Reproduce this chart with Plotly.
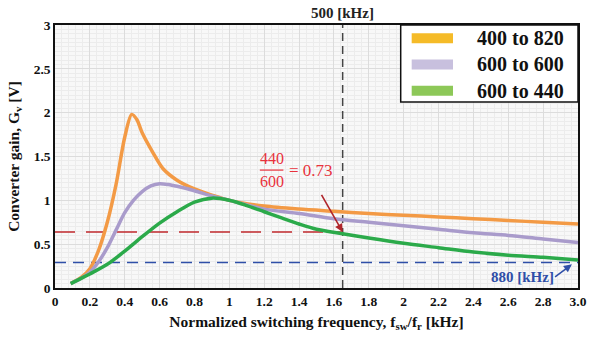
import plotly.graph_objects as go

# ---------------- data ----------------
series_names = ["400 to 820", "600 to 600", "600 to 440"]
curve_colors = ["#F39A45", "#A99BCB", "#2BAA4A"]
legend_colors = ["#F5BB28", "#C8C0DE", "#8DC858"]

x_orange = [0.09, 0.15, 0.2, 0.25, 0.3, 0.35, 0.4, 0.44, 0.47, 0.5, 0.56, 0.62, 0.7, 0.8, 0.9, 1.0,
            1.2, 1.4, 1.6, 1.8, 2.0, 2.2, 2.4, 2.6, 2.8, 3.0]
y_orange = [0.05, 0.12, 0.22, 0.43, 0.75, 1.18, 1.72, 1.98, 1.92, 1.77, 1.55, 1.36, 1.23, 1.13, 1.06, 1.0,
            0.935, 0.9, 0.875, 0.85, 0.83, 0.81, 0.79, 0.77, 0.75, 0.73]

x_purple = [0.09, 0.15, 0.2, 0.25, 0.3, 0.35, 0.4, 0.45, 0.5, 0.55, 0.6, 0.65, 0.7, 0.8, 0.9, 1.0,
            1.2, 1.4, 1.6, 1.8, 2.0, 2.2, 2.4, 2.6, 2.8, 3.0]
y_purple = [0.05, 0.11, 0.18, 0.3, 0.46, 0.66, 0.86, 1.0, 1.1, 1.165, 1.19, 1.18, 1.16, 1.11, 1.05, 1.0,
            0.9, 0.85, 0.79, 0.75, 0.71, 0.67, 0.63, 0.6, 0.56, 0.52]

x_green = [0.09, 0.15, 0.2, 0.3, 0.4, 0.5, 0.6, 0.7, 0.8, 0.9, 1.0, 1.1, 1.2, 1.3, 1.4, 1.5, 1.65,
           1.8, 2.0, 2.2, 2.4, 2.6, 2.8, 3.0]
y_green = [0.05, 0.11, 0.16, 0.27, 0.42, 0.585, 0.74, 0.87, 0.98, 1.025, 1.0, 0.94, 0.87, 0.8, 0.73, 0.67,
           0.62, 0.57, 0.51, 0.46, 0.41, 0.375, 0.35, 0.32]

f_500 = 1.65          # normalized frequency of 500 kHz marker
gain_red = 0.64       # red dashed level
gain_blue = 0.29      # blue dashed level

x_ticks = [0, 0.2, 0.4, 0.6, 0.8, 1, 1.2, 1.4, 1.6, 1.8, 2, 2.2, 2.4, 2.6, 2.8, 3.0]
x_ticktext = ["0", "0.2", "0.4", "0.6", "0.8", "1", "1.2", "1.4", "1.6", "1.8", "2", "2.2", "2.4",
              "2.6", "2.8", "3.0"]
y_ticks = [0, 0.5, 1, 1.5, 2, 2.5, 3]
y_ticktext = ["0", "0.5", "1", "1.5", "2", "2.5", "3"]

FONT = "Liberation Serif, Times New Roman, serif"

fig = go.Figure()

# reference dashed lines
fig.add_trace(go.Scatter(x=[0, f_500], y=[gain_red, gain_red], mode="lines",
                         line=dict(color="#C0282D", width=1.5, dash="20px,11px"),
                         showlegend=False, hoverinfo="skip"))
fig.add_trace(go.Scatter(x=[0, 3.0], y=[gain_blue, gain_blue], mode="lines",
                         line=dict(color="#2F4FA8", width=1.5, dash="11px,7px"),
                         showlegend=False, hoverinfo="skip"))
fig.add_trace(go.Scatter(x=[f_500, f_500], y=[0, 3], mode="lines",
                         line=dict(color="#444444", width=1.5, dash="8px,5px"),
                         showlegend=False, hoverinfo="skip"))

# curves
for xs, ys, c, n in [(x_orange, y_orange, curve_colors[0], series_names[0]),
                     (x_purple, y_purple, curve_colors[1], series_names[1]),
                     (x_green, y_green, curve_colors[2], series_names[2])]:
    fig.add_trace(go.Scatter(x=xs, y=ys, mode="lines", name=n,
                             line=dict(color=c, width=3.5, shape="spline", smoothing=0.8),
                             showlegend=False))

# annotations
anns = [
    dict(x=f_500, y=1.0, xref="x", yref="paper", text="<b>500 [kHz]</b>", showarrow=False,
         yanchor="bottom", yshift=2, font=dict(family=FONT, size=15, color="#222222")),
    dict(x=1.242, y=1.48, text="440", showarrow=False, font=dict(family=FONT, size=16, color="#E8323C")),
    dict(x=1.242, y=1.215, text="600", showarrow=False, font=dict(family=FONT, size=16, color="#E8323C")),
    dict(x=1.33, y=1.345, text="= 0.73", showarrow=False, xanchor="left",
         font=dict(family=FONT, size=17, color="#E8323C")),
    dict(x=f_500, y=gain_red, ax=1.524, ay=1.08, axref="x", ayref="y", text="", showarrow=True,
         arrowhead=2, arrowsize=1, arrowwidth=1.6, arrowcolor="#B0262C"),
    dict(x=2.68, y=0.12, text="<b>880 [kHz]</b>", showarrow=False,
         font=dict(family=FONT, size=15, color="#2F4FA8")),
    dict(x=2.965, y=0.27, ax=2.86, ay=0.115, axref="x", ayref="y", text="", showarrow=True,
         arrowhead=2, arrowsize=1, arrowwidth=1.6, arrowcolor="#2F4FA8"),
]

# legend box (paper coords)
shapes = [
    dict(type="line", x0=1.175, x1=1.31, y0=1.345, y1=1.345, xref="x", yref="y",
         line=dict(color="#E8323C", width=1.2)),
    dict(type="rect", xref="paper", yref="paper", x0=0.661, x1=1.0, y0=0.707, y1=1.0,
         fillcolor="white", line=dict(color="#111111", width=1.5), layer="above"),
]
leg_y = [0.95, 0.85, 0.75]
for name, c, yc in zip(series_names, legend_colors, leg_y):
    shapes.append(dict(type="rect", xref="paper", yref="paper", x0=0.682, x1=0.761,
                       y0=yc - 0.019, y1=yc + 0.019, fillcolor=c, line=dict(width=0), layer="above"))
    anns.append(dict(xref="paper", yref="paper", x=0.803, y=yc, xanchor="left", yanchor="middle",
                     text=f"<b>{name}</b>", showarrow=False,
                     font=dict(family=FONT, size=20, color="#111111")))

fig.update_layout(
    annotations=anns, shapes=shapes,
    width=596, height=337,
    margin=dict(l=55, r=9, t=25, b=49),
    paper_bgcolor="white",
    plot_bgcolor="#F8F8F8",
    showlegend=False,
    font=dict(family=FONT, color="#111111"),
    xaxis=dict(range=[0, 3.0], tickvals=x_ticks, ticktext=x_ticktext,
               tickfont=dict(family=FONT, size=13.5, weight="bold"),
               showgrid=True, gridcolor="#DCDCDC", gridwidth=1,
               minor=dict(dtick=0.04, showgrid=True, gridcolor="#ECECEC", gridwidth=1),
               showline=True, mirror=True, linecolor="#111111", linewidth=1.5,
               zeroline=False, ticks="",
               title=dict(text="<b>Normalized switching frequency, f<sub>sw</sub>/f<sub>r</sub> [kHz]</b>",
                          font=dict(family=FONT, size=15.5), standoff=8)),
    yaxis=dict(range=[0, 3], tickvals=y_ticks, ticktext=y_ticktext,
               tickfont=dict(family=FONT, size=13.5, weight="bold"),
               showgrid=True, gridcolor="#DCDCDC", gridwidth=1,
               minor=dict(dtick=0.05, showgrid=True, gridcolor="#ECECEC", gridwidth=1),
               showline=True, mirror=True, linecolor="#111111", linewidth=1.5,
               zeroline=False, ticks="",
               title=dict(text="<b>Converter gain, G<sub>v</sub> [V]</b>",
                          font=dict(family=FONT, size=15.5), standoff=10)),
)

fig.write_html("out.html")
